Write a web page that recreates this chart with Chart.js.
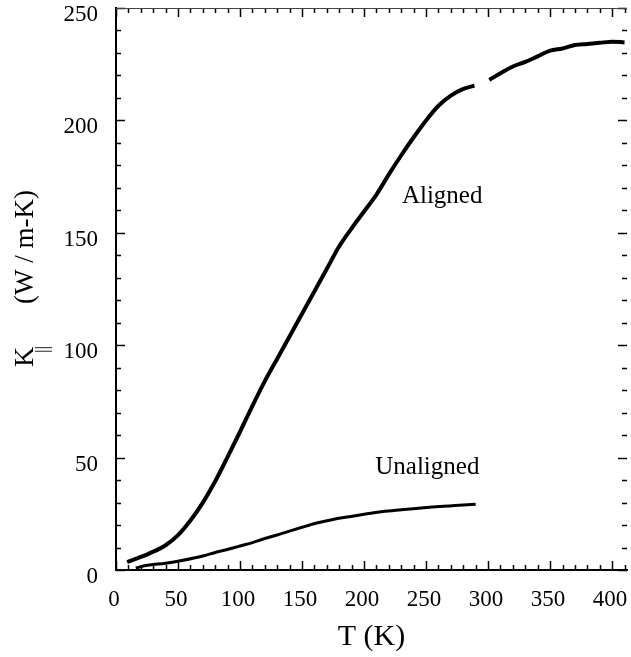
<!DOCTYPE html>
<html>
<head>
<meta charset="utf-8">
<script src="https://cdn.jsdelivr.net/npm/chart.js@4.4.1/dist/chart.umd.min.js"></script>
<style>
  html, body { margin: 0; padding: 0; background: #fff; }
  #wrap { width: 631px; height: 657px; }
</style>
</head>
<body>
<div id="wrap"><canvas id="chart" width="631" height="657"></canvas></div>
<script>
// Aligned sample: temperature (K) and conductivity (W/m-K); null marks the gap in the trace
var alignedT = [9, 20, 27, 40, 50, 60, 70, 80, 90, 100, 110, 120, 130, 140, 150, 160, 170, 180, 190,
                200, 210, 220, 230, 240, 250, 260, 270, 280, 289,
                295, 301, 310, 320, 330, 340, 350, 360, 370, 380, 390, 400, 410];
var alignedK = [3.5, 5.8, 7.4, 11, 15.5, 22, 30, 39.5, 50.3, 61.5, 73, 84, 94, 104, 114, 124, 134, 144, 152,
                159.5, 167, 176, 184.5, 192.5, 200, 206.5, 211, 214, 215.5,
                null, 218, 221, 224, 226, 228.5, 231, 232, 233.5, 234, 234.5, 235, 234.7];

// Unaligned sample
var unalignedT = [16, 20, 27, 40, 54, 70, 80, 89, 100, 110, 120, 134, 150, 161, 175, 188, 200, 215, 230, 242, 255, 269, 280, 290];
var unalignedK = [0.8, 1.5, 2.2, 3.0, 4.3, 6.2, 7.8, 9.0, 10.7, 12.2, 14.0, 16.3, 19.0, 20.8, 22.5, 23.7, 24.8, 26.0, 26.8, 27.4, 28.0, 28.5, 28.9, 29.2];

// curve labels and where they sit (data units)
var labelText = ['Aligned', 'Unaligned'];
var labelT = [263, 251];
var labelK = [166, 45.5];

var xTicks = [0, 50, 100, 150, 200, 250, 300, 350, 400];
var yTicks = [0, 50, 100, 150, 200, 250];

var serif = '"Liberation Serif", "DejaVu Serif", serif';

function toPoints(xs, ys){
    return xs.map(function(x, i){ return {x: x, y: ys[i]}; });
}

// inward tick marks on all four sides, plus the y title and the curve labels
var decorations = {
    id: 'decorations',
    afterDraw: function(chart){
        var ctx = chart.ctx;
        var xs = chart.scales.x;
        var ys = chart.scales.y;
        var a = chart.chartArea;

        ctx.save();
        ctx.strokeStyle = '#000';
        ctx.lineWidth = 1.5;
        ctx.beginPath();
        for (var t = 0; t <= 410; t += 10){
            var px = Math.round(xs.getPixelForValue(t)) + 0.5;
            var len = (t % 50 === 0) ? 9 : 5;
            ctx.moveTo(px, a.bottom); ctx.lineTo(px, a.bottom - len);
            ctx.moveTo(px, a.top); ctx.lineTo(px, a.top + len);
        }
        for (var k = 0; k <= 250; k += 10){
            var py = Math.round(ys.getPixelForValue(k)) + 0.5;
            var lenY = (k % 50 === 0) ? 9 : 5;
            ctx.moveTo(a.left, py); ctx.lineTo(a.left + lenY, py);
            ctx.moveTo(a.right, py); ctx.lineTo(a.right - lenY, py);
        }
        ctx.stroke();

        // top frame line, lighter like the scan
        ctx.strokeStyle = '#444';
        ctx.lineWidth = 1;
        ctx.beginPath();
        ctx.moveTo(a.left, a.top + 0.5);
        ctx.lineTo(a.right, a.top + 0.5);
        ctx.stroke();

        // curve labels
        ctx.fillStyle = '#000';
        ctx.font = '25px ' + serif;
        ctx.textAlign = 'center';
        ctx.textBaseline = 'middle';
        for (var i = 0; i < labelText.length; i++){
            ctx.fillText(labelText[i], xs.getPixelForValue(labelT[i]), ys.getPixelForValue(labelK[i]));
        }

        // y axis title: K with a || subscript, then units
        ctx.translate(33, 367);
        ctx.rotate(-Math.PI / 2);
        ctx.textAlign = 'left';
        ctx.textBaseline = 'alphabetic';
        ctx.font = '28px ' + serif;
        ctx.fillText('K', 0, 0);
        ctx.font = '18px ' + serif;
        ctx.fillText('||', 14, 15);
        ctx.font = '27px ' + serif;
        ctx.fillText('(W / m-K)', 63, 0);
        ctx.restore();
    }
};

window.onload = function(){
    var ctx = document.getElementById('chart');

    new Chart(ctx, {
        type: 'line',
        data: {
            datasets: [{
                label: 'Aligned',
                data: toPoints(alignedT, alignedK),
                borderColor: '#000',
                borderWidth: 4,
                pointRadius: 0,
                cubicInterpolationMode: 'monotone',
                spanGaps: false
            }, {
                label: 'Unaligned',
                data: toPoints(unalignedT, unalignedK),
                borderColor: '#000',
                borderWidth: 3,
                pointRadius: 0,
                cubicInterpolationMode: 'monotone'
            }]
        },
        options: {
            responsive: false,
            animation: false,
            layout: { padding: { top: 8, right: 4, left: 0, bottom: 0 } },
            plugins: {
                legend: { display: false },
                tooltip: { enabled: false }
            },
            scales: {
                x: {
                    type: 'linear',
                    min: 0,
                    max: 412,
                    afterBuildTicks: function(scale){
                        scale.ticks = xTicks.map(function(v){ return {value: v}; });
                    },
                    afterFit: function(scale){
                        scale.height = 87;
                        scale.paddingLeft = 0;
                        scale.paddingRight = 0;
                    },
                    grid: { display: false, drawTicks: false },
                    border: { display: true, color: '#000', width: 2 },
                    ticks: {
                        color: '#000',
                        font: { family: serif, size: 23 },
                        padding: 16,
                        labelOffset: -2,
                        maxRotation: 0
                    },
                    title: {
                        display: true,
                        text: 'T (K)',
                        color: '#000',
                        font: { family: serif, size: 30 },
                        padding: { top: 0, bottom: 2 }
                    }
                },
                y: {
                    type: 'linear',
                    min: 0,
                    max: 250,
                    afterBuildTicks: function(scale){
                        scale.ticks = yTicks.map(function(v){ return {value: v}; });
                    },
                    afterFit: function(scale){
                        scale.width = 116;
                        scale.paddingTop = 0;
                        scale.paddingBottom = 0;
                    },
                    grid: { display: false, drawTicks: false },
                    border: { display: true, color: '#000', width: 2 },
                    ticks: {
                        color: '#000',
                        font: { family: serif, size: 23 },
                        padding: 18,
                        labelOffset: 7
                    }
                }
            }
        },
        plugins: [decorations]
    });
};
</script>
</body>
</html>
